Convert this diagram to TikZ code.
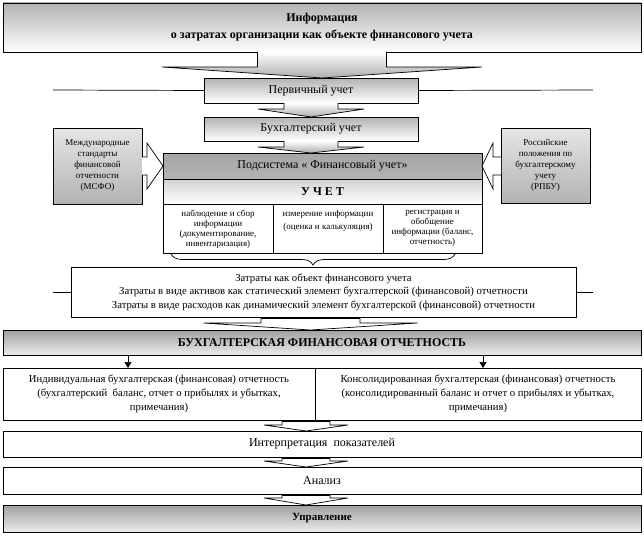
\documentclass[tikz,border=0pt]{standalone}
\usepackage{fontspec}
\setmainfont{Liberation Serif}
\usetikzlibrary{calc,arrows.meta,decorations.pathreplacing}

\tikzset{
  box/.style={draw, rectangle, inner sep=0pt, outer sep=0pt, align=center,
    font=\fontsize{12}{14}\selectfont},
  grad/.style={top color=gray!60, bottom color=white},
  dgrad/.style={top color=gray!75, bottom color=gray!15},
  sidebox/.style={box, top color=gray!20, bottom color=gray!60,
    font=\fontsize{9}{11}\selectfont},
  cell/.style={box, font=\fontsize{9}{10}\selectfont},
  garrow/.style={draw, top color=white, bottom color=gray!65},
  warrow/.style={draw, fill=white},
}

% block arrow: style, from, to, x shift, shaft half, head half, shaft length
\newcommand{\blockarr}[7]{%
  \coordinate (ba) at ($(#2.south)+(#4,0)$);
  \coordinate (bt) at (ba |- #3.north);
  \draw[#1] ($(ba)+(-#5,0)$) -- ($(ba)+(-#5,#7)$) -- ($(ba)+(-#6,#7)$) -- (bt)
    -- ($(ba)+(#6,#7)$) -- ($(ba)+(#5,#7)$) -- ($(ba)+(#5,0)$);
}

\begin{document}
\begin{tikzpicture}[x=1pt, y=-1pt, line width=0.7pt]
    \useasboundingbox (0,0) rectangle (644,535);

    % Free ends of the side lines
    \coordinate (pl) at (53,90);
    \coordinate (pr) at (593,90);
    \coordinate (zl) at (53,292);
    \coordinate (zr) at (593,292);

    % Draw nodes
    \node[box, grad, minimum width=638pt, minimum height=49pt, font=\bfseries\fontsize{12}{17}\selectfont]
        (info) at (322,27.5) {Информация\\о затратах организации как объекте финансового учета};
    \node[box, grad, minimum width=214pt, minimum height=25pt] (prim) at (311,90.5) {Первичный учет};
    \node[box, grad, minimum width=214pt, minimum height=24pt] (buh) at (311,129) {Бухгалтерский учет};

    \node[box, top color=gray!70, middle color=gray!10, bottom color=gray!60,
        minimum width=319pt, minimum height=26pt] (sub) at (322.5,166) {Подсистема « Финансовый учет»};
    \node[box, top color=gray!35, bottom color=white, minimum width=319pt, minimum height=25pt,
        font=\bfseries\fontsize{12}{14}\selectfont] (uchet) at (322.5,191.5) {У Ч Е Т};
    \node[cell, minimum width=110pt, minimum height=49pt] (c1) at (218,228.5)
        {\parbox[c][37pt][t]{104pt}{\centering наблюдение и сбор\\информации\\(документирование,\\инвентаризация)}};
    \node[cell, minimum width=110pt, minimum height=49pt] (c2) at (328,228.5)
        {\parbox[c][37pt][t]{104pt}{\centering измерение информации\\[3pt](оценка и калькуляция)}};
    \node[cell, minimum width=99pt, minimum height=49pt] (c3) at (432.5,228.5)
        {\parbox[c][37pt][t]{95pt}{\centering регистрация и\\обобщение\\информации (баланс,\\отчетность)}};

    \node[sidebox, minimum width=89pt, minimum height=76pt] (msfo) at (97.5,166)
        {Международные\\стандарты\\финансовой\\отчетности\\(МСФО)};
    \node[sidebox, minimum width=89pt, minimum height=75pt] (rpbu) at (545.5,165.5)
        {Российские\\положения по\\бухгалтерскому\\учету\\(РПБУ)};

    \node[box, fill=white, minimum width=505pt, minimum height=50pt, font=\fontsize{10.7}{13.5}\selectfont]
        (zatr) at (323.5,292) {Затраты как объект финансового учета\\
        Затраты в виде активов как статический элемент бухгалтерской (финансовой) отчетности\\
        Затраты в виде расходов как динамический элемент бухгалтерской (финансовой) отчетности};

    \node[box, dgrad, minimum width=638pt, minimum height=25pt, font=\bfseries\fontsize{12}{14}\selectfont]
        (buhf) at (322,342.5) {БУХГАЛТЕРСКАЯ ФИНАНСОВАЯ ОТЧЕТНОСТЬ};
    \node[box, minimum width=312pt, minimum height=52pt, font=\fontsize{10.7}{14}\selectfont] (ind) at (159,394)
        {Индивидуальная бухгалтерская (финансовая) отчетность\\(бухгалтерский\ \ баланс, отчет о прибылях и убытках,\\примечания)};
    \node[box, minimum width=326pt, minimum height=52pt, font=\fontsize{10.7}{14}\selectfont] (kons) at (478,394)
        {Консолидированная бухгалтерская (финансовая) отчетность\\(консолидированный баланс и отчет о прибылях и убытках,\\примечания)};
    \node[box, minimum width=638pt, minimum height=26pt] (interp) at (322,444) {Интерпретация\ \ показателей};
    \node[box, minimum width=638pt, minimum height=27pt] (anal) at (322,480.5) {Анализ};
    \node[box, dgrad, minimum width=638pt, minimum height=27pt, font=\bfseries\fontsize{11}{14}\selectfont]
        (upr) at (322,518.5) {Управление};

    % Draw connections
    \draw (pl) -- (prim.west);
    \draw (prim.east) -- (pr);
    \draw (zl) -- (zatr.west);
    \draw (zatr.east) -- (zr);

    \blockarr{garrow}{info}{prim}{0}{64.5}{160}{15}
    \blockarr{garrow}{prim}{buh}{0}{27}{53}{6}
    \blockarr{garrow}{buh}{sub}{0}{27}{53}{6}

    \draw[warrow] ($(msfo.east |- sub.west)+(0,-9)$) -- ($(msfo.east |- sub.west)+(5,-9)$)
        -- ($(msfo.east |- sub.west)+(5,-23)$) -- (sub.west) -- ($(msfo.east |- sub.west)+(5,23)$)
        -- ($(msfo.east |- sub.west)+(5,9)$) -- ($(msfo.east |- sub.west)+(0,9)$);
    \draw[warrow] ($(rpbu.west |- sub.east)+(0,-9)$) -- ($(rpbu.west |- sub.east)+(-8,-9)$)
        -- ($(rpbu.west |- sub.east)+(-8,-23)$) -- (sub.east) -- ($(rpbu.west |- sub.east)+(-8,23)$)
        -- ($(rpbu.west |- sub.east)+(-8,9)$) -- ($(rpbu.west |- sub.east)+(0,9)$);

    \draw[decorate, decoration={brace, mirror, amplitude=11pt}]
        ($(c1.south west)+(8,1)$) -- ($(c3.south east)+(-27,1)$);

    \blockarr{warrow}{zatr}{buhf}{-13}{49.5}{107}{6}
    \draw[line width=2pt] ($(ba)+(-49.5,1)$) -- ($(ba)+(49.5,1)$);

    \coordinate (ia) at ($(ind.north)+(-31,0)$);
    \coordinate (ka) at ($(kons.north)+(5,0)$);
    \draw[-{Triangle[length=6pt,width=7pt]}] (ia |- buhf.south) -- (ia);
    \draw[-{Triangle[length=6pt,width=7pt]}] (ka |- buhf.south) -- (ka);

    \blockarr{warrow}{ind}{interp}{147}{24}{42}{5}
    \draw[line width=2pt] ($(ba)+(-24,1)$) -- ($(ba)+(24,1)$);
    \blockarr{warrow}{interp}{anal}{-16}{24}{42}{4}
    \draw[line width=2pt] ($(ba)+(-24,1)$) -- ($(ba)+(24,1)$);
    \blockarr{warrow}{anal}{upr}{-16}{24}{42}{4}
    \draw[line width=2pt] ($(ba)+(-24,1)$) -- ($(ba)+(24,1)$);
\end{tikzpicture}
\end{document}
